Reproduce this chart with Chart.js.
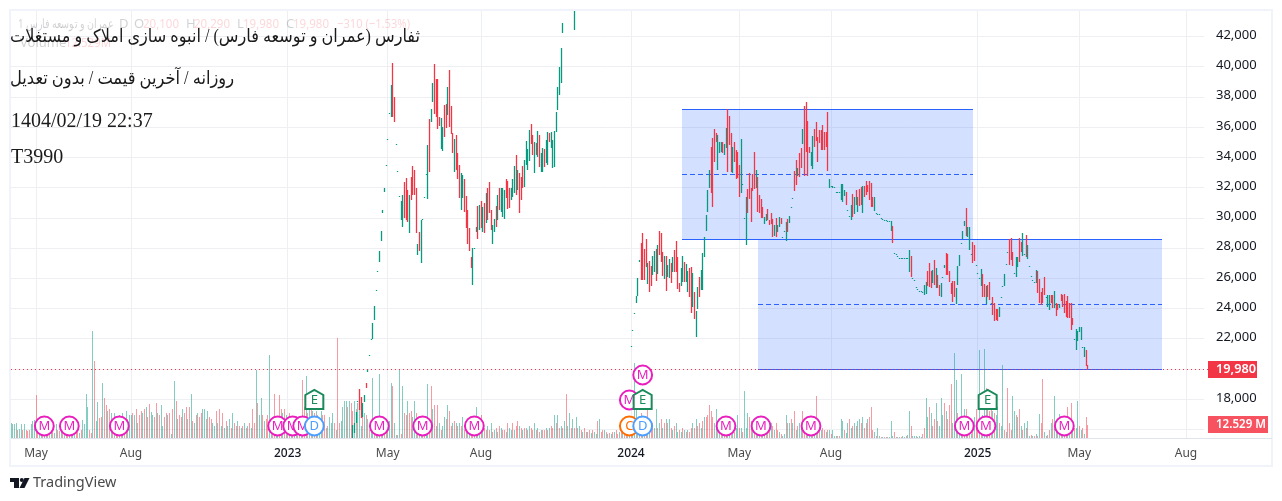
<!DOCTYPE html>
<html>
<head>
<meta charset="utf-8">
<style>
  html, body { margin: 0; padding: 0; background: #ffffff; }
  canvas { display: block; }
</style>
<script src="https://cdn.jsdelivr.net/npm/chart.js@4"></script>
</head>
<body>
<canvas id="chart" width="1282" height="501"></canvas>
<script>
// Candles before the 2024 reset, starting at bar 205 (null = above the visible range)
const run1Start = 205;
const run1Highs = [
  16200,16340,17070,17800,18590,18060,17660,18190,18980,19910,
  20850,21900,22950,24070,25150,26400,27710,29040,30430,31880,
  33400,35120,36840,38690,40150,37900,34790,33000,31350,31020,
  31420,32280,32540,31750,31420,32610,33340,33070,31880,28180,
  28970,29760,29780,31280,32800,34720,36440,37110,38830,40080,
  39090,39090,36580,36510,35920,37370,37440,38560,39690,37300,
  35520,35120,35390,34200,33400,32870,32740,32480,31350,30430,
  29230,27320,27910,27910,29300,30690,30760,31020,30620,30890,
  31550,31880,32280,30430,29430,29830,30690,31420,31880,31880,
  31880,31750,32480,32350,31880,31880,32480,33340,34060,33070,
  32870,32610,33340,33730,34990,34460,35720,36110,35390,34920,
  34860,35650,35390,34200,34530,34460,35060,35590,35520,35590,
  35060,35650,36910,38560,39880,41140,42790,null,null,null,null,null,43650,43590
];
const run1Lows = [
  15350,15680,16340,17750,17200,16670,16730,17730,18650,19710,
  20800,21860,21900,23150,25100,26350,27000,28370,30230,31620,
  33360,35080,36800,36580,36580,36250,34750,32960,31310,29760,
  29300,29900,29760,29630,28900,31090,31420,31420,28900,27450,
  27710,26920,29740,31240,32760,31150,32940,36250,37570,36770,
  36580,35780,35980,34460,34330,35250,35850,36710,35920,35450,
  34200,32940,33070,32480,31220,30430,31220,30300,29230,28180,
  27710,26590,25470,27870,28970,28510,29100,29230,28970,28900,
  29560,29760,30230,29100,28180,28970,29300,29760,30430,30300,
  29960,29830,31220,30490,30560,31090,31280,31550,31420,31750,
  30230,31090,31880,31950,33400,33070,33670,34790,34060,32870,
  34060,33930,33270,32940,32940,33270,33530,33400,34920,34530,
  33200,33270,35590,37040,38030,38830,42130,null,null,null,null,null,43590,42330
];
const run1Dirs = 'ggggrrggrg' + 'gggggggggg' + 'ggggrrgggg' + 'grrrgrrrrg' + 'rgggggrggr' + 'rrrggrrgrr' + 'rgrrrggrrr'
  + 'rrgggrgrgr' + 'grrrggrgrg' + 'ggrrrgggrg' + 'rrrggggrrg' + 'rgrggrggrg' + 'ggggggggggggrg';

// Candles from the 2024 reopening to the last session
const run2Start = 372;
const run2Highs = [
  21380,22440,23570,24740,25930,27120,28240,28900,27850,28510,
  26920,27050,26720,27380,27710,27850,28110,29040,28900,27650,
  27380,27380,26790,27190,26920,27320,27780,28370,27320,25600,
  26590,27380,26990,26850,26390,26590,26650,26260,25000,23750,
  25330,25990,26460,27580,28640,30090,31750,33070,34590,35190,
  35780,35520,35390,34920,34920,34920,34790,35850,37110,36640,
  35520,34590,34920,34390,34260,33400,35120,32100,29850,31280,
  31810,32870,31880,32800,34260,33070,32610,31420,31150,30620,
  29960,30160,30490,29760,30230,29830,29430,29900,29430,29960,
  29900,28640,29040,29630,29830,30030,30580,31170,33000,33730,
  33200,34200,34530,35780,37300,37570,36310,34590,34260,35320,
  35780,36250,35250,35720,35720,36050,35590,35590,36910,32480,
  32010,32010,31950,31620,31620,31560,32150,32150,31750,31620,
  30380,29980,30760,31480,31280,31750,31280,31810,31950,32010,
  32010,32340,32080,32340,32210,31280,31280,30230,30160,30130,
  29900,29830,29760,29760,29700,29700,29700,29370,27580,27520,
  27380,27250,27250,27250,27250,27250,27250,27780,27380,25930,
  25800,25330,25200,25070,25070,25000,25470,25660,26390,26920,
  26390,26460,27120,26590,26130,25470,25600,25990,26790,27580,
  27520,26390,25600,25730,25730,25270,26720,27450,28240,29040,
  29700,30560,29300,29300,27520,28310,28110,26740,26210,25930,
  26520,26190,25530,25400,25470,25660,24280,24670,24280,23880,
  23880,24010,24670,25400,26190,26860,27650,28510,28570,27650,
  26210,27320,27320,28570,28310,28900,27470,28770,28110,26680,
  26020,25800,25670,26460,26390,25860,25000,25270,25990,24620,
  24800,24800,24800,24800,25070,24280,24210,24210,24870,24800,
  24870,24410,24740,24280,24280,23280,21900,22550,22420,22690,
  22690,21370,21370,21170,20184
];
const run2Lows = [
  21340,22400,23530,24280,24740,26990,25800,25800,25800,26650,
  25530,25000,25400,26130,26320,25730,26190,27450,26990,26060,
  25860,25070,25990,25930,25600,26320,26320,26320,25200,25000,
  25400,25660,25660,25660,25000,24670,23610,24010,23220,22030,
  23880,24670,25140,25140,27320,29040,30300,31880,31550,30620,
  33600,34920,33070,34200,34260,34200,34060,34530,32940,34720,
  32940,32870,33600,32480,32540,31280,31550,32060,29810,28110,
  30230,31150,29630,31680,31810,31880,30300,30230,29900,29900,
  29500,29700,29760,29430,29500,28640,28710,28640,28970,29300,
  29500,28600,29000,28370,28970,29560,30540,31130,31680,32080,
  32670,32610,33200,34790,32670,34260,32670,34200,33340,33140,
  34590,34990,33600,34860,34390,34390,34390,34590,33000,31880,
  31970,31880,31910,31580,31580,31520,31090,30960,31350,30760,
  30340,29940,29760,29960,30160,30760,30300,30690,30760,30230,
  31280,31420,31620,31090,30620,30620,30360,30190,30120,30090,
  29860,29790,29720,29720,29660,29660,29040,28240,27540,27480,
  27340,27210,27210,27210,27210,27210,27210,26320,25990,25890,
  25760,25290,25160,25030,25030,24960,24800,24870,25400,25330,
  25270,25600,25470,25270,25270,24740,24670,25950,26590,26130,
  26130,25660,24870,24340,24670,24210,25470,26720,28200,28510,
  29370,28710,28640,27780,27480,26920,27050,26700,26170,25890,
  25400,24670,24670,24210,24670,24470,24240,23480,23080,23150,
  23080,23350,24630,25360,25400,26820,27610,26790,27120,26720,
  26170,25990,26650,26990,27650,27380,27430,27320,27190,26640,
  25980,25760,25630,25600,24940,24280,24140,24280,24800,24580,
  24010,23810,24280,23940,23940,23410,23810,23940,24410,24010,
  23610,23350,23280,23280,22490,22820,21860,21170,21760,22360,
  21830,21330,20710,20100,19874
];
const run2Dirs = 'ggggggrrrr' + 'grrggrgrrr' + 'grggrgrrrr' + 'ggrggrrgrg' + 'grggggggrr' + 'rrgggrggrr' + 'rgrrrrgggg'
  + 'rrrrrgrrrr' + 'ggrrrrgrgg' + 'rgggrgggrr' + 'grrgrrrrgg' + 'rrrrrrrrrg' + 'gggggggggr' + 'gggrgrgrrg'
  + 'rrrrrrgggg' + 'gggggggrgg' + 'ggggggggrg' + 'ggggggggrr' + 'rgrgrrgggr' + 'rrrrrggggg' + 'grgggrrggg'
  + 'grrgrrgrrr' + 'rggggggrrr' + 'gggrrggrgg' + 'ggggrrrrrg' + 'ggrrgrrgrr' + 'rrrrrrgggg' + 'gggrr';

// The candle readings came out a little low against the price grid
const readingOffset = 106;

// Volume per bar, millions
const volumes = [
  14,13,13,14,8,9,13,8,13,8,7,8,13,16,17,41,12,8,7,6,
  8,7,6,8,5,6,5,13,8,7,6,5,6,8,6,7,12,5,6,8,
  6,5,8,17,13,42,30,8,5,103,74,16,35,19,20,53,38,32,26,28,
  24,17,24,12,18,22,16,24,10,26,18,22,22,24,22,28,14,22,26,24,
  28,30,20,33,25,22,20,34,24,22,32,12,20,24,22,24,4,28,55,36,
  18,22,20,28,24,30,18,30,42,16,14,22,24,20,24,28,28,18,26,20,
  18,14,12,26,14,28,12,24,10,16,12,18,10,24,14,12,16,12,10,12,
  14,10,12,14,10,28,14,65,34,22,38,22,16,18,22,80,16,20,42,20,
  20,41,28,24,28,22,20,24,14,20,20,20,20,20,20,56,30,60,24,28,
  28,26,24,26,22,14,26,22,22,10,12,20,14,24,14,8,96,14,16,30,
  36,36,30,36,34,26,36,28,34,36,12,30,24,22,18,8,14,58,12,10,
  14,62,18,14,12,14,14,16,53,50,14,3,3,65,4,50,24,22,36,24,
  26,20,36,24,14,12,20,14,16,18,52,12,50,28,32,12,32,14,8,12,
  20,18,32,26,12,14,16,14,12,14,12,20,8,14,12,10,14,12,8,30,
  14,10,22,12,10,8,12,8,14,6,8,10,6,12,10,8,8,6,14,10,
  8,14,8,12,16,12,10,8,10,10,8,12,10,8,14,8,10,6,8,8,
  8,10,8,10,12,10,22,14,22,10,12,10,16,42,12,24,10,18,10,20,
  10,12,8,6,10,6,6,8,5,8,6,4,16,18,6,8,8,6,4,5,
  4,6,6,8,4,6,6,5,10,6,10,14,8,8,72,42,16,14,24,20,
  14,16,28,12,8,14,10,28,10,14,18,10,14,18,14,18,10,8,12,14,
  6,8,6,10,8,6,8,6,10,14,10,18,12,14,10,16,20,20,22,32,
  26,20,14,28,14,10,14,12,14,10,12,14,14,14,6,10,22,10,10,6,
  45,10,24,20,16,16,14,16,12,14,14,12,12,14,8,12,14,12,8,14,
  8,6,4,2,4,22,14,14,18,14,26,8,12,14,10,26,14,12,14,12,
  12,14,16,40,14,10,8,10,8,6,8,8,4,8,2,2,2,2,18,16,
  8,5,14,18,10,12,14,12,16,18,14,20,10,14,18,20,30,8,6,2,
  10,2,1,1,1,1,1,1,16,2,6,1,1,1,1,2,1,2,3,26,
  12,2,2,2,1,2,1,4,10,38,20,30,24,12,18,34,16,12,38,22,
  34,26,18,32,52,14,82,56,24,16,62,18,28,28,8,6,4,6,20,28,
  12,85,20,22,86,48,28,26,28,26,24,22,30,14,12,70,8,6,48,14,
  8,40,26,22,20,28,12,8,14,10,16,2,3,2,2,4,2,23,14,57,
  6,2,3,8,14,18,40,16,10,23,14,12,18,20,30,14,34,14,10,10,
  36,12,8,10,4,20,12.529
];
const volumeDirs = 'ggggrggrgrrrgggrrggr' + 'grgrgrggrrgrgrrgrggr' + 'rgrggggrrgrggrrgrrgr' + 'grgrrgrgrgrggrgrgrrg'
  + 'rgrrggrrgrggrrgrgrgr' + 'grrgrrgrgrgrgrrggrgr' + 'rggrgrgrgrggrgrrgrgr' + 'grgrgrrgrggrgrrggrrg'
  + 'grrgrgrrgrgrgrgrrgrg' + 'rgrgrggrrgrgggrgrrgg' + 'ggrgrrgrgggrgrgrggrg' + 'rgrgrgrggrgrggrgrrgr'
  + 'rggrgrgrrggrrgrgrgrg' + 'grgrrgrgrgrgrgrgrrgg' + 'rgrgrrgrgrgrgrgrrgrg' + 'grgrrgrgrgrgrrgrgrgr'
  + 'rgrgrrgrgrgrgrggrgrg' + 'rgrgrgrrgrggrgrrgrgr' + 'grgrrgrgrgrgrgggrgrg' + 'rgrgrrggrgrgrgrgrgrg'
  + 'grgrgrgrrgrgrrgrgrrr' + 'rrggrgrgrgrgrgrggrgr' + 'gggrrgrgrgrgrrgrgrgr' + 'rgrgggrgrgrgrggrrgrg'
  + 'grgrgrgrrgrgrgggrrgg' + 'rggrgrgrggrgrrgrrrgr' + 'ggrgrgrgggrgrgrggrgg' + 'rgggrggrrggrgrrgrggg'
  + 'rgrrrgggrggrgrgrgrgr' + 'rgrggrgrrgrggrggrgrr' + 'rggrgrgrgrggrgrgrgrr' + 'grgrgrggrgrgrgrgrgrg' + 'grgrgrr';

// Axes
const priceTicks = [16000,18000,20000,22000,24000,26000,28000,30000,32000,34000,36000,38000,40000,42000];
const priceTickLabels = ['','18,000','','22,000','24,000','26,000','28,000','30,000','32,000','34,000','36,000','38,000','40,000','42,000'];
const timeTickBars = [15,72,166,226,282,372,437,492,580,641,705];
const timeTickLabels = ['May','Aug','2023','May','Aug','2024','May','Aug','2025','May','Aug'];

// Drawn zones: bar range and price levels
const zoneStartBars = [402.6,448.2];
const zoneEndBars = [577.2,690.6];
const zoneTopPrices = [37193,28594];
const zoneMidPrices = [32890,24295];
const zoneBottomPrices = [28594,19980];

// Event flags on the time axis
const eventBars = [20,35,65,160,169,175,182,182,221,247,278,371,379,371,379,379,429,450,480,572,585,586,632];
const eventLetters = ['M','M','M','M','M','M','D','E','M','M','M','C','D','M','E','M','M','M','M','M','M','E','M'];
const eventRows = [0,0,0,0,0,0,0,1,0,0,0,0,0,1,1,2,0,0,0,0,0,1,0];

const lastPrice = 19980;
const lastVolume = 12.529;

const titleLines = ['ثفارس (عمران و توسعه فارس) / انبوه سازی املاک و مستغلات', 'روزانه / آخرین قیمت / بدون تعدیل', '1404/02/19 22:37', 'T3990'];

const GREEN = '#089981';
const RED = '#f23645';
const GRID = '#eeeff3';
const UI_FONT = '"Noto Sans", sans-serif';

function candlePoints(start, highs, lows) {
  const points = [];
  highs.forEach((high, i) => {
    if (high !== null) points.push({ x: start + i, y: [lows[i] + readingOffset, high + readingOffset] });
  });
  return points;
}

function candleColors(highs, dirs) {
  const colors = [];
  highs.forEach((high, i) => {
    if (high !== null) colors.push(dirs[i] === 'g' ? GREEN : RED);
  });
  return colors;
}

const candleData = candlePoints(run1Start, run1Highs, run1Lows).concat(candlePoints(run2Start, run2Highs, run2Lows));
const candleBackground = candleColors(run1Highs, run1Dirs).concat(candleColors(run2Highs, run2Dirs));

// TradingView snaps bars to whole pixels, do the same so they stay crisp
const snapBars = {
  id: 'snapBars',
  beforeDatasetsDraw(chart) {
    chart.data.datasets.forEach((ds, d) => {
      chart.getDatasetMeta(d).data.forEach(bar => {
        bar.x = Math.floor(bar.x) + 0.5;
        const top = Math.round(Math.min(bar.y, bar.base));
        const bottom = Math.round(Math.max(bar.y, bar.base));
        bar.y = top;
        bar.base = Math.max(bottom, top + 1);
      });
    });
  }
};

const zones = {
  id: 'zones',
  beforeDatasetsDraw(chart) {
    const { ctx, scales: { x, y }, chartArea } = chart;
    ctx.save();
    ctx.beginPath();
    ctx.rect(chartArea.left, chartArea.top, chartArea.width, chartArea.height);
    ctx.clip();
    zoneStartBars.forEach((startBar, i) => {
      const left = x.getPixelForValue(startBar);
      const right = x.getPixelForValue(zoneEndBars[i]);
      const top = Math.floor(y.getPixelForValue(zoneTopPrices[i])) + 0.5;
      const mid = Math.floor(y.getPixelForValue(zoneMidPrices[i])) + 0.5;
      const bottom = Math.floor(y.getPixelForValue(zoneBottomPrices[i])) + 0.5;
      ctx.fillStyle = 'rgba(41,98,255,0.2)';
      ctx.fillRect(left, top, right - left, bottom - top);
      ctx.strokeStyle = '#2962ff';
      ctx.lineWidth = 1;
      ctx.setLineDash([]);
      ctx.beginPath();
      ctx.moveTo(left, top); ctx.lineTo(right, top);
      ctx.moveTo(left, bottom); ctx.lineTo(right, bottom);
      ctx.stroke();
      ctx.setLineDash([5, 3]);
      ctx.beginPath();
      ctx.moveTo(left, mid); ctx.lineTo(right, mid);
      ctx.stroke();
    });
    ctx.restore();
  }
};

function drawEvent(ctx, px, py, letter) {
  const colors = { M: '#e91ebe', C: '#ff6d00', D: '#4c9eff', E: '#1b8a5a' };
  ctx.fillStyle = '#ffffff';
  ctx.strokeStyle = colors[letter];
  ctx.lineWidth = 2;
  ctx.beginPath();
  if (letter === 'E') {
    ctx.moveTo(px - 9, py - 5);
    ctx.lineTo(px, py - 10);
    ctx.lineTo(px + 9, py - 5);
    ctx.lineTo(px + 9, py + 9);
    ctx.lineTo(px - 9, py + 9);
    ctx.closePath();
  } else {
    ctx.arc(px, py, 9.4, 0, Math.PI * 2);
  }
  ctx.fill();
  ctx.stroke();
  ctx.fillStyle = colors[letter];
  ctx.font = '13px ' + UI_FONT;
  ctx.textAlign = 'center';
  ctx.textBaseline = 'middle';
  ctx.fillText(letter, px, py + 0.5);
}

const overlays = {
  id: 'overlays',
  afterDatasetsDraw(chart) {
    const { ctx, scales: { x, y }, chartArea } = chart;
    const lastY = Math.floor(y.getPixelForValue(lastPrice)) + 0.5;
    ctx.save();
    ctx.strokeStyle = RED;
    ctx.lineWidth = 1;
    ctx.setLineDash([1, 3]);
    ctx.beginPath();
    ctx.moveTo(chartArea.left, lastY);
    ctx.lineTo(chartArea.right + 4, lastY);
    ctx.stroke();
    ctx.setLineDash([]);

    // event flags
    const rowY = [426, 400, 375];
    eventBars.forEach((bar, i) => {
      drawEvent(ctx, x.getPixelForValue(bar), rowY[eventRows[i]], eventLetters[i]);
    });

    // faded legend
    ctx.globalAlpha = 0.2;
    ctx.textAlign = 'left';
    ctx.textBaseline = 'middle';
    ctx.font = '13px ' + UI_FONT;
    ctx.fillStyle = '#131722';
    ctx.fillText('1 عمران و توسعه فارس', 18, 24, 96);
    ctx.fillText('D', 119, 24);
    ctx.fillText('O', 134, 24);
    ctx.fillText('H', 186, 24);
    ctx.fillText('L', 237, 24);
    ctx.fillText('C', 286, 24);
    ctx.fillText('Volume', 20, 43);
    ctx.fillStyle = RED;
    ctx.fillText('20,100', 143, 24, 36);
    ctx.fillText('20,290', 194, 24, 36);
    ctx.fillText('19,980', 243, 24, 36);
    ctx.fillText('19,980', 293, 24, 36);
    ctx.fillText('−310 (−1.53%)', 337, 24, 73);
    ctx.fillText('12.529M', 65, 43, 46);
    ctx.globalAlpha = 1;

    // title block
    ctx.fillStyle = '#1a1a1a';
    ctx.textBaseline = 'alphabetic';
    ctx.direction = 'rtl';
    ctx.font = '18px "Liberation Serif", "DejaVu Sans", serif';
    ctx.textAlign = 'right';
    ctx.fillText(titleLines[0], 420, 42, 410);
    ctx.fillText(titleLines[1], 234, 84, 224);
    ctx.direction = 'ltr';
    ctx.textAlign = 'left';
    ctx.font = '20px "Liberation Serif", serif';
    ctx.fillText(titleLines[2], 11, 127);
    ctx.fillText(titleLines[3], 11, 163);
    ctx.restore();
  },
  afterDraw(chart) {
    const { ctx, scales: { y, yVol } } = chart;
    ctx.save();

    // frame and axis line
    ctx.strokeStyle = '#f0f3fa';
    ctx.lineWidth = 2;
    ctx.strokeRect(10, 10, 1262, 456);
    ctx.strokeStyle = '#e0e3eb';
    ctx.lineWidth = 1;
    ctx.beginPath();
    ctx.moveTo(11, 438.5);
    ctx.lineTo(1272, 438.5);
    ctx.stroke();

    // last value tags
    ctx.font = '600 13px ' + UI_FONT;
    ctx.textAlign = 'left';
    ctx.textBaseline = 'middle';
    const priceY = Math.floor(y.getPixelForValue(lastPrice));
    ctx.fillStyle = RED;
    ctx.fillRect(1208, priceY - 8, 49, 17);
    ctx.fillStyle = '#ffffff';
    ctx.fillText('19,980', 1216, priceY + 0.5, 40);
    const volY = Math.round(yVol.getPixelForValue(lastVolume));
    ctx.fillStyle = '#f7525f';
    ctx.fillRect(1208, volY - 9, 60, 17);
    ctx.fillStyle = '#ffffff';
    ctx.fillText('12.529 M', 1216, volY - 0.5, 50);

    // footer logo
    ctx.fillStyle = '#131722';
    ctx.fillRect(10, 478, 9, 4);
    ctx.fillRect(14, 478, 5, 10);
    ctx.beginPath();
    ctx.arc(21.8, 480, 2, 0, Math.PI * 2);
    ctx.fill();
    ctx.beginPath();
    ctx.moveTo(24.5, 478);
    ctx.lineTo(29.5, 478);
    ctx.lineTo(24.5, 488);
    ctx.lineTo(19.5, 488);
    ctx.closePath();
    ctx.fill();
    ctx.fillStyle = '#4a4a4a';
    ctx.font = '14.5px ' + UI_FONT;
    ctx.textBaseline = 'middle';
    ctx.fillText('TradingView', 33, 483);
    ctx.restore();
  }
};

new Chart(document.getElementById('chart'), {
  data: {
    datasets: [
      {
        type: 'bar',
        label: 'Price',
        data: candleData,
        backgroundColor: candleBackground,
        barThickness: 1.3,
        minBarLength: 1,
        inflateAmount: 0,
        grouped: false,
        yAxisID: 'y',
        order: 1
      },
      {
        type: 'bar',
        label: 'Volume',
        data: volumes.map((volume, i) => ({ x: i, y: volume })),
        backgroundColor: volumes.map((volume, i) => volumeDirs[i] === 'g' ? 'rgba(8,153,129,0.5)' : 'rgba(242,54,69,0.5)'),
        barThickness: 1,
        inflateAmount: 0,
        grouped: false,
        yAxisID: 'yVol',
        order: 2
      }
    ]
  },
  options: {
    responsive: false,
    animation: false,
    events: [],
    layout: { padding: { left: 11, right: 9, top: 11, bottom: 35 } },
    plugins: { legend: { display: false }, tooltip: { enabled: false } },
    scales: {
      x: {
        type: 'linear',
        offset: false,
        min: 0,
        max: 715.8,
        afterBuildTicks: axis => { axis.ticks = timeTickBars.map(value => ({ value })); },
        afterFit: axis => {
          axis.height = 28;
          axis.paddingLeft = 0;
          axis.paddingRight = 0;
        },
        grid: { color: GRID, drawTicks: false, offset: false },
        border: { display: false },
        ticks: {
          autoSkip: false,
          maxRotation: 0,
          padding: 8,
          callback: (value, i) => timeTickLabels[i],
          color: ctx => /^\d/.test(timeTickLabels[ctx.index]) ? '#131722' : '#4a4a4a',
          font: ctx => ({ family: UI_FONT, size: 12, weight: /^\d/.test(timeTickLabels[ctx.index]) ? '500' : '400' })
        }
      },
      y: {
        position: 'right',
        min: 15452,
        max: 43693,
        afterBuildTicks: axis => { axis.ticks = priceTicks.map(value => ({ value })); },
        afterFit: axis => {
          axis.width = 69;
          axis.paddingTop = 0;
          axis.paddingBottom = 0;
        },
        grid: { color: GRID, drawTicks: false },
        border: { display: false },
        ticks: {
          padding: 12,
          labelOffset: -1.5,
          callback: (value, i) => priceTickLabels[i],
          color: '#131722',
          font: { family: UI_FONT, size: 13 }
        }
      },
      yVol: { display: false, min: 0, max: 410.6 }
    }
  },
  plugins: [snapBars, zones, overlays]
});
</script>
</body>
</html>
